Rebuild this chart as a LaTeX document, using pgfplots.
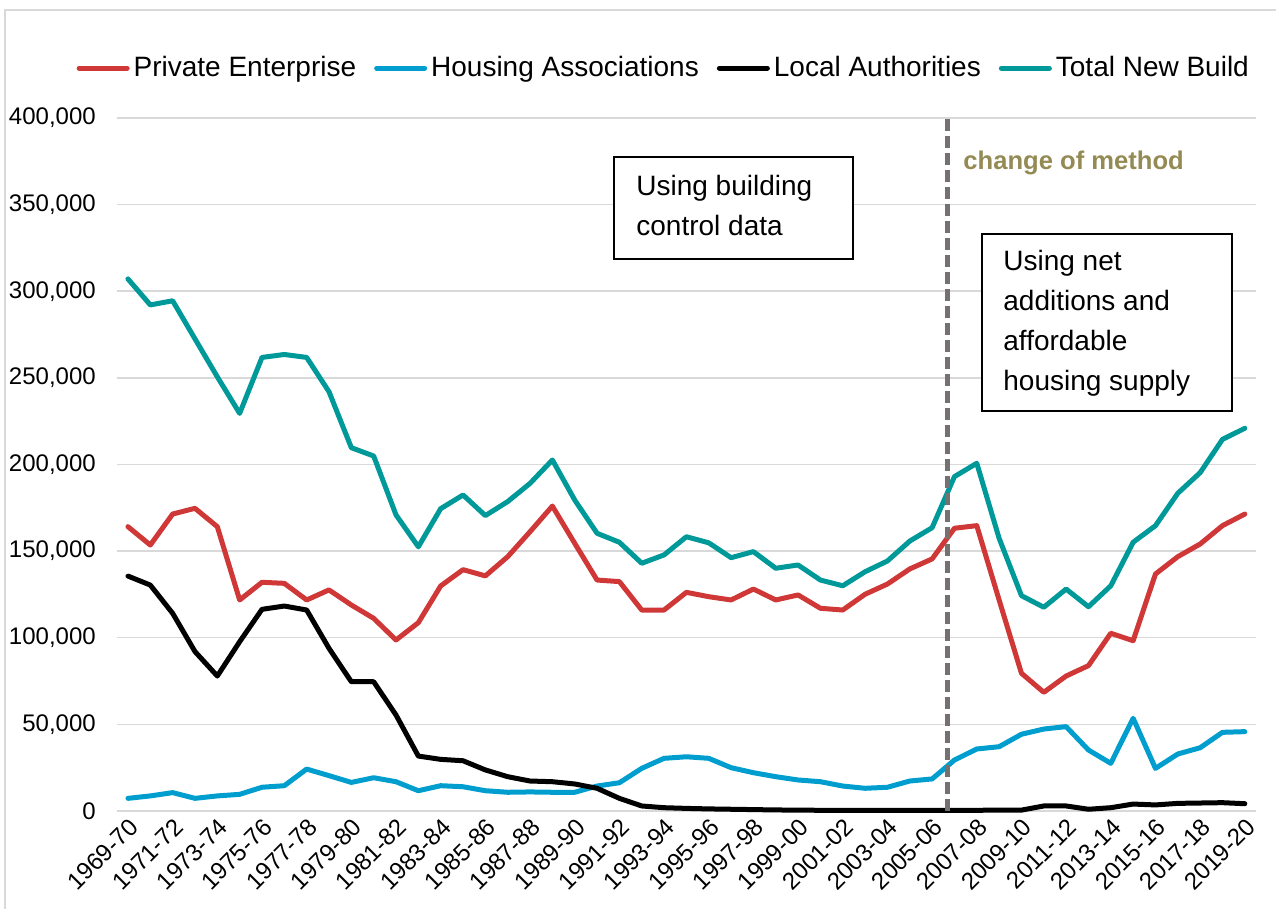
\documentclass[border=0pt]{standalone}
\usepackage{fontspec}
\setmainfont{Liberation Sans}
\usepackage{pgfplots}
\pgfplotsset{compat=1.18}
\usepackage{pgfplotstable}

\definecolor{pe}{RGB}{208,55,55}
\definecolor{ha}{RGB}{0,158,206}
\definecolor{tn}{RGB}{0,153,153}
\definecolor{gridc}{RGB}{217,217,217}
\definecolor{dashc}{RGB}{118,113,113}
\definecolor{olivec}{RGB}{148,138,84}

\pgfplotstableread{
i pe ha la tot
0 164100 7300 135600 307100
1 153500 8700 130400 292100
2 171400 10600 114100 294500
3 174700 7300 92000 272500
4 164100 8700 77900 250600
5 121800 9600 97700 229500
6 132000 13700 116400 261800
7 131400 14600 118300 263500
8 121800 24200 116000 261800
9 127600 20400 93900 242000
10 118900 16500 74600 209700
11 111200 19200 74600 204900
12 98700 16900 55400 170900
13 108700 11700 31700 152500
14 129900 14600 29800 174500
15 139300 14000 29000 182400
16 135700 11700 23700 170500
17 146800 10800 19800 178600
18 161200 11000 17300 189100
19 176000 10800 16900 202600
20 154500 10800 15600 179500
21 133300 14400 13100 160300
22 132400 16300 7300 155100
23 116000 24600 2900 143000
24 116000 30400 1900 147800
25 126200 31300 1500 158300
26 123700 30400 1200 154800
27 121800 25000 1000 146200
28 128100 22100 800 149700
29 121800 19800 600 140100
30 124700 17900 500 142000
31 117000 16900 400 133300
32 116000 14400 400 130000
33 125100 13100 400 138100
34 131000 13700 300 144300
35 139700 17300 300 155800
36 145500 18500 300 163500
37 163200 29400 300 193000
38 164700 35800 400 200700
39 121800 37100 500 157400
40 79500 44300 500 124300
41 68500 47300 2900 117600
42 77900 48700 2900 128100
43 83900 35200 1000 117900
44 102600 27500 1900 130000
45 98300 53500 4000 155100
46 136800 24600 3500 164700
47 146800 32900 4400 183400
48 154100 36500 4600 195300
49 164700 45400 4800 214500
50 171400 45800 4200 220900
}\data

\begin{document}
\begin{tikzpicture}[x=1pt,y=1pt]
\path[use as bounding box] (0,0) rectangle (638,454.5);
\draw[gridc, line width=1pt] (2.5,0) -- (2.5,449.5) -- (638,449.5);
\begin{axis}[
  at={(58.4pt,49pt)}, anchor=south west,
  scale only axis, width=569.6pt, height=346.5pt,
  xmin=-0.5, xmax=50.5, ymin=0, ymax=400000,
  axis line style={draw=none},
  major tick length=0pt,
  ymajorgrids, grid style={gridc, line width=0.75pt},
  xtick={0,2,...,50},
  xticklabels={1969-70,1971-72,1973-74,1975-76,1977-78,1979-80,1981-82,1983-84,1985-86,1987-88,1989-90,1991-92,1993-94,1995-96,1997-98,1999-00,2001-02,2003-04,2005-06,2007-08,2009-10,2011-12,2013-14,2015-16,2017-18,2019-20},
  xticklabel style={rotate=45, anchor=north east, inner sep=2pt, font=\fontsize{12}{14}\selectfont},
  ytick={0,50000,...,400000},
  scaled y ticks=false,
  yticklabel style={/pgf/number format/fixed, /pgf/number format/1000 sep={,}, /pgf/number format/assume math mode=true, font=\fontsize{12}{14}\selectfont, xshift=-7pt},
  clip=false,
  legend columns=4,
  legend style={at={(0.481,1.072)}, anchor=center, draw=none, fill=none,
    font=\fontsize{14}{16}\selectfont,
    /tikz/every even column/.append style={column sep=7pt}},
  legend image code/.code={\draw[#1] (0pt,0pt) -- (24pt,0pt);},
  every axis plot/.append style={line width=2.5pt, line join=round, line cap=round, no markers},
]
\addplot[pe] table[x=i, y=pe] {\data};
\addlegendentry{Private Enterprise}
\addplot[ha] table[x=i, y=ha] {\data};
\addlegendentry{Housing Associations}
\addplot[black] table[x=i, y=la] {\data};
\addlegendentry{Local Authorities}
\addplot[tn] table[x=i, y=tot] {\data};
\addlegendentry{Total New Build}
\draw[dashc, line width=2.5pt, dash pattern=on 6pt off 2.5pt] (axis cs:36.7,0) -- (axis cs:36.7,400000);
\end{axis}
\draw[black, line width=0.75pt, fill=white] (307,325) rectangle (426.5,376);
\node[anchor=west, align=left, inner sep=0pt, font=\fontsize{14}{20}\selectfont] at (318,351.75) {Using building\\control data};
\draw[black, line width=0.75pt, fill=white] (491,249) rectangle (616,337.5);
\node[anchor=west, align=left, inner sep=0pt, font=\fontsize{14}{20}\selectfont] at (501.5,292.75) {Using net\\additions and\\affordable\\housing supply};
\node[anchor=west, inner sep=0pt, text=olivec, font=\fontsize{12.8}{15}\selectfont\bfseries] at (481.5,373) {change of method};
\end{tikzpicture}
\end{document}
